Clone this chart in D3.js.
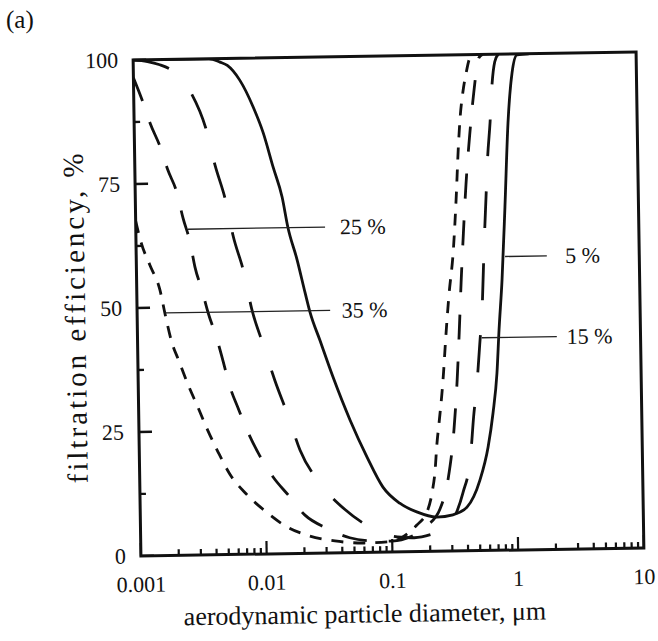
<!DOCTYPE html>
<html>
<head>
<meta charset="utf-8">
<script src="https://cdn.jsdelivr.net/npm/d3@7"></script>
<style>
  body { margin: 0; background: #fff; }
  text { font-family: "Liberation Serif", "Times New Roman", serif; fill: #111; }
</style>
</head>
<body>
<script>

// axis ticks
let xTickValues = [0.001, 0.01, 0.1, 1, 10];
let xTickLabels = ["0.001", "0.01", "0.1", "1", "10"];
let yTickValues = [0, 25, 50, 75, 100];
let yTickLabels = ["0", "25", "50", "75", "100"];

// filtration efficiency (%) vs aerodynamic diameter (um)
let eff5 = [[0.001, 100], [0.002, 100], [0.004, 100], [0.0049, 99.3], [0.0056, 98.6], [0.007, 95.6],
  [0.0089, 90.1], [0.0106, 84.9], [0.0126, 77.9], [0.0147, 71.9], [0.0162, 65.8], [0.019, 59.2],
  [0.0218, 52.5], [0.0237, 48.6], [0.0282, 42.9], [0.0354, 35.5], [0.0479, 26.7], [0.0646, 19.2],
  [0.0857, 13.1], [0.116, 9.8], [0.158, 8.0], [0.228, 6.9], [0.306, 7.3], [0.397, 8.8],
  [0.507, 14.2], [0.594, 20.8], [0.657, 27.7], [0.714, 35.7], [0.751, 44.4], [0.805, 54.5],
  [0.867, 69.2], [0.939, 86.1], [1.026, 96.2], [1.13, 99.8], [1.4, 100]];

let eff15 = [[0.001, 100], [0.0013, 99.6], [0.0016, 99], [0.0021, 97.5], [0.00286, 93.2],
  [0.00372, 85.9], [0.00434, 78.6], [0.00525, 71.1], [0.00591, 64.4], [0.00716, 56.7],
  [0.00815, 49.5], [0.01, 42.1], [0.0122, 35.0], [0.0155, 27.6], [0.019, 20.8], [0.0271, 14.1],
  [0.0425, 8.7], [0.0743, 4.5], [0.11, 3.0], [0.15, 2.8], [0.21, 3.5], [0.278, 4.8], [0.33, 8.0],
  [0.37, 11.7], [0.43, 19.0], [0.46, 27.0], [0.495, 34.0], [0.525, 41.5], [0.555, 49.0],
  [0.587, 62.0], [0.615, 71.3], [0.64, 79.1], [0.677, 86.4], [0.708, 93.8], [0.75, 98.5], [0.8, 100]];

let eff25 = [[0.001, 96.4], [0.00118, 91.5], [0.00134, 87.2], [0.0016, 82.4], [0.00183, 77.7],
  [0.00215, 73.0], [0.00238, 68.0], [0.00269, 63.1], [0.00292, 58.1], [0.0033, 53.4],
  [0.00368, 48.7], [0.00427, 43.6], [0.00477, 38.9], [0.00536, 33.8], [0.0062, 29.4],
  [0.00741, 24.4], [0.00886, 20.3], [0.0115, 15.5], [0.0151, 11.8], [0.0204, 7.7], [0.0302, 5.0],
  [0.046, 3.0], [0.07, 2.3], [0.1, 2.2], [0.14, 3.0], [0.19, 5.2], [0.242, 8.5], [0.284, 14.7],
  [0.32, 24.5], [0.344, 34.5], [0.362, 44.0], [0.38, 54.0], [0.402, 64.0], [0.428, 74.0],
  [0.465, 84.0], [0.51, 93.0], [0.56, 99.3], [0.6, 100]];

let eff35 = [[0.001, 67.5], [0.0011, 63.1], [0.00128, 58.6], [0.00153, 53.5], [0.00168, 48.3],
  [0.00186, 43.2], [0.00212, 39.2], [0.00246, 34.7], [0.00294, 30.0], [0.00351, 25.2],
  [0.00423, 20.7], [0.00522, 16.2], [0.00698, 12.2], [0.0099, 8.6], [0.0144, 5.5], [0.0213, 3.6],
  [0.035, 2.4], [0.06, 1.9], [0.1, 2.1], [0.125, 3.2], [0.157, 5.3], [0.193, 8.3], [0.211, 12.0],
  [0.224, 16.4], [0.232, 21.1], [0.245, 26.3], [0.259, 31.7], [0.269, 36.2], [0.28, 41.8],
  [0.29, 46.4], [0.303, 51.5], [0.333, 60.7], [0.355, 70.7], [0.376, 81.5], [0.392, 87.5],
  [0.415, 92.5], [0.44, 96.0], [0.48, 99.5], [0.52, 100]];

let seriesNames = ["5 %", "15 %", "25 %", "35 %"];
// leader lines: efficiency level, start and end diameter, where the label starts
let leaderLevel = [59.2, 42.9, 65.7, 48.9];
let leaderFrom = [0.857, 0.546, 0.0026, 0.00167];
let leaderTo = [1.84, 2.16, 0.032, 0.0343];
let labelAt = [2.57, 2.59, 0.042, 0.0424];

let W = 658, H = 641;
let plotW = 503, plotH = 496;

let svg = d3.select("body").append("svg")
  .attr("width", W)
  .attr("height", H);

svg.append("text")
  .attr("x", 6).attr("y", 28)
  .attr("font-size", 25)
  .text("(a)");

// the printed figure sits a little tilted on the page
let g = svg.append("g")
  .attr("transform", "rotate(-0.9, 388, 304) translate(137,56)");

let x = d3.scaleLog().domain([0.001, 10]).range([0, plotW]);
let y = d3.scaleLinear().domain([0, 100]).range([plotH, 0]);

g.append("clipPath").attr("id", "plot-clip")
  .append("rect").attr("x", 0).attr("y", 0).attr("width", plotW).attr("height", plotH);

let line = d3.line()
  .x(function (d) { return x(d[0]); })
  .y(function (d) { return y(d[1]); })
  .curve(d3.curveMonotoneX);

let series = [eff5, eff15, eff25, eff35];
let dashes = [null, "37,35", "25,22", "12,10"];

g.append("g").attr("clip-path", "url(#plot-clip)")
  .selectAll("path")
  .data(series)
  .enter().append("path")
  .attr("d", line)
  .attr("fill", "none")
  .attr("stroke", "#111")
  .attr("stroke-width", 2.8)
  .attr("stroke-dasharray", function (d, i) { return dashes[i]; });

// leader lines and labels
let notes = g.append("g");
seriesNames.forEach(function (name, i) {
  notes.append("line")
    .attr("x1", x(leaderFrom[i])).attr("x2", x(leaderTo[i]))
    .attr("y1", y(leaderLevel[i])).attr("y2", y(leaderLevel[i]))
    .attr("stroke", "#222")
    .attr("stroke-width", 1.3);
  notes.append("text")
    .attr("x", x(labelAt[i]))
    .attr("y", y(leaderLevel[i]))
    .attr("dy", "0.34em")
    .attr("font-size", 22)
    .text(name);
});

// ticks, pointing inward
let ticks = g.append("g").attr("stroke", "#111");
x.ticks().forEach(function (v) {
  let major = Math.abs(Math.log10(v) - Math.round(Math.log10(v))) < 1e-6;
  ticks.append("line")
    .attr("x1", x(v)).attr("x2", x(v))
    .attr("y1", plotH).attr("y2", plotH - (major ? 13 : 6))
    .attr("stroke-width", 2.2);
});
d3.range(0, 100.1, 12.5).forEach(function (v) {
  let major = v % 25 === 0;
  ticks.append("line")
    .attr("x1", 0).attr("x2", major ? 13 : 6)
    .attr("y1", y(v)).attr("y2", y(v))
    .attr("stroke-width", 2.4);
});

// frame
g.append("rect")
  .attr("x", 0).attr("y", 0)
  .attr("width", plotW).attr("height", plotH)
  .attr("fill", "none")
  .attr("stroke", "#111")
  .attr("stroke-width", 3);

g.append("g").selectAll("text")
  .data(xTickValues)
  .enter().append("text")
  .attr("x", function (d) { return x(d); })
  .attr("y", plotH + 36)
  .attr("text-anchor", "middle")
  .attr("font-size", 22)
  .text(function (d, i) { return xTickLabels[i]; });

g.append("g").selectAll("text")
  .data(yTickValues)
  .enter().append("text")
  .attr("x", -15)
  .attr("y", function (d) { return y(d); })
  .attr("dy", "0.34em")
  .attr("text-anchor", "end")
  .attr("font-size", 22)
  .text(function (d, i) { return yTickLabels[i]; });

g.append("text")
  .attr("x", 223)
  .attr("y", plotH + 70)
  .attr("text-anchor", "middle")
  .attr("font-size", 26)
  .text("aerodynamic particle diameter, \u03bcm");

g.append("text")
  .attr("transform", "translate(-52," + (plotH / 2 + 8) + ") rotate(-90)")
  .attr("text-anchor", "middle")
  .attr("font-size", 29)
  .attr("letter-spacing", 3)
  .text("filtration efficiency, %");

</script>
</body>
</html>
